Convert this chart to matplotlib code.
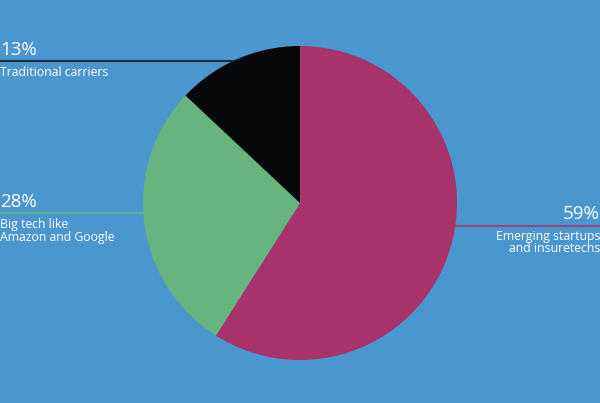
import matplotlib
matplotlib.use("Agg")
import matplotlib.pyplot as plt

# slice data, clockwise from the top
shares = [59, 28, 13]
colors = ['#A8336A', '#66B47E', '#07080A']
pct_labels = ['59%', '28%', '13%']
names = ['Emerging startups\nand insuretechs', 'Big tech like\nAmazon and Google', 'Traditional carriers']

bg = '#4A97D0'

plt.rcParams['font.family'] = ['Open Sans', 'DejaVu Sans']

fig = plt.figure(figsize=(6, 4.03), dpi=100, facecolor=bg)
ax = fig.add_axes([0, 0, 1, 1])
ax.set_facecolor(bg)

ax.pie(shares, colors=colors, startangle=90, counterclock=False,
       center=(300, 200), radius=157, frame=True,
       wedgeprops=dict(linewidth=0))
ax.set_xlim(0, 600)
ax.set_ylim(0, 403)
ax.set_aspect('equal')
ax.axis('off')

# leader lines
ax.plot([456, 600], [177, 177], color=colors[0], lw=1.2)
ax.plot([0, 144], [190, 190], color=colors[1], lw=1.2)
ax.plot([0, 233], [342, 342], color='#1a2a3a', lw=1.5)

# labels
pct_kw = dict(color='white', fontsize=13.5, fontweight='medium')
name_kw = dict(color='white', fontsize=8.8, fontweight='medium', linespacing=0.95)
ax.text(600, 180, pct_labels[0], ha='right', va='bottom', **pct_kw)
ax.text(600, 173, names[0], ha='right', va='top', **name_kw)
ax.text(0, 192, pct_labels[1], ha='left', va='bottom', **pct_kw)
ax.text(0, 185, names[1], ha='left', va='top', **name_kw)
ax.text(0, 344, pct_labels[2], ha='left', va='bottom', **pct_kw)
ax.text(0, 337, names[2], ha='left', va='top', **name_kw)

fig.savefig('out.png', dpi=100, facecolor=bg)
